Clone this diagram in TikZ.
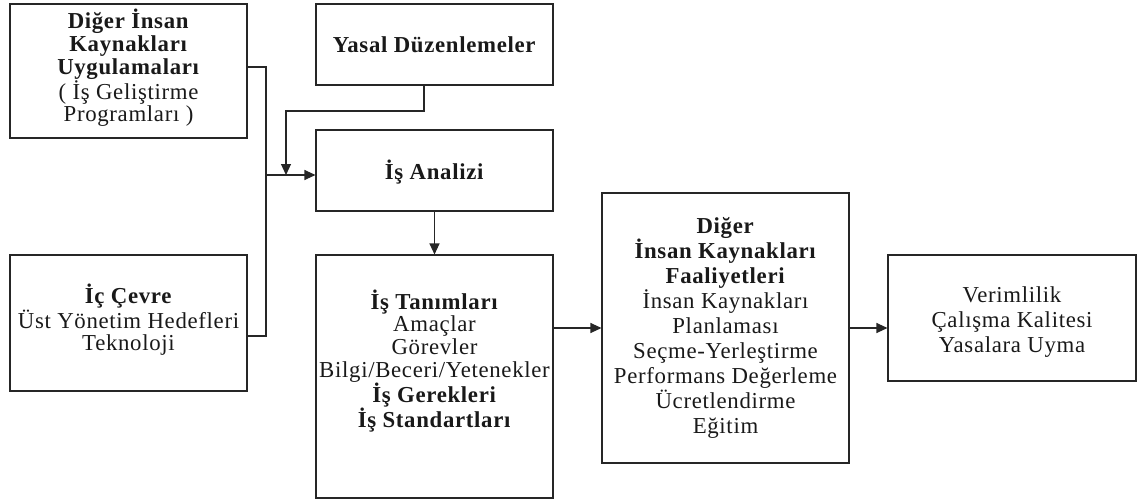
\documentclass[tikz,border=0pt]{standalone}
\usepackage{fontspec}
\setmainfont[LetterSpace=3]{Liberation Serif}
\usetikzlibrary{arrows.meta}
\begin{document}
\begin{tikzpicture}[x=1pt,y=-1pt,
  box/.style={draw=black!85, line width=1.1pt, rectangle, inner sep=0pt},
  txt/.style={align=center, inner sep=0pt, text=black!90},
  tight/.style={font=\fontsize{22.8}{22.7}\selectfont},
  loose/.style={font=\fontsize{22.8}{24.9}\selectfont},
  conn/.style={draw=black!85, line width=1.1pt},
  arr/.style={conn, -{Triangle[length=11pt,width=10pt]}}]
\useasboundingbox (0,0) rectangle (1142,500);

% boxes
\node[box, minimum width=237pt, minimum height=134pt] (A)  at (128.5,71)   {};
\node[box, minimum width=237pt, minimum height=136pt] (B)  at (128.5,323)  {};
\node[box, minimum width=237pt, minimum height=81pt]  (Y)  at (434.5,44.5) {};
\node[box, minimum width=237pt, minimum height=81pt]  (IA) at (434.5,170.5){};
\node[box, minimum width=237pt, minimum height=243pt] (IT) at (434.5,376.5){};
\node[box, minimum width=247pt, minimum height=270pt] (D)  at (725.5,328)  {};
\node[box, minimum width=248pt, minimum height=126pt] (V)  at (1012,318)   {};

% box texts
\node[txt, tight] (tA) at (128.5,68) {\textbf{Diğer İnsan}\\\textbf{Kaynakları}\\\textbf{Uygulamaları}\\( İş Geliştirme\\Programları )};
\node[txt, tight] (tB) at (128.5,320) {\textbf{İç Çevre}\\Üst Yönetim Hedefleri\\Teknoloji};
\node[txt, tight] (tY) at (434.5,44.5) {\textbf{Yasal Düzenlemeler}};
\node[txt, tight] (tIA) at (434.5,172) {\textbf{İş Analizi}};
\node[txt, tight] (tIT) at (434.5,361) {\textbf{İş Tanımları}\\Amaçlar\\Görevler\\Bilgi/Beceri/Yetenekler\\\textbf{İş Gerekleri}\\\textbf{İş Standartları}};
\node[txt, loose] (tD) at (725.5,328) {\textbf{Diğer}\\\textbf{İnsan Kaynakları}\\\textbf{Faaliyetleri}\\İnsan Kaynakları\\Planlaması\\Seçme-Yerleştirme\\Performans Değerleme\\Ücretlendirme\\Eğitim};
\node[txt, loose] (tV) at (1012,322) {Verimlilik\\Çalışma Kalitesi\\Yasalara Uyma};

% junction points of the collector line
\coordinate (j1) at (266,67);
\coordinate (jm) at (266,175);
\coordinate (j2) at (266,336);
\coordinate (y1) at (424,111);
\coordinate (y2) at (286,111);
\coordinate (c1) at (553,328);

% connectors
\draw[conn] (A.east |- j1) -- (j1) -- (j2) -- (B.east |- j2);
\draw[arr] (jm) -- (IA.west |- jm);
\draw[arr] (Y.south -| y1) -- (y1) -- (y2) -- (y2 |- jm);
\draw[arr] (IA.south) -- (IT.north);
\draw[arr] (IT.east |- c1) -- (D.west |- c1);
\draw[arr] (D.east) -- (D.east -| V.west);
\end{tikzpicture}
\end{document}
